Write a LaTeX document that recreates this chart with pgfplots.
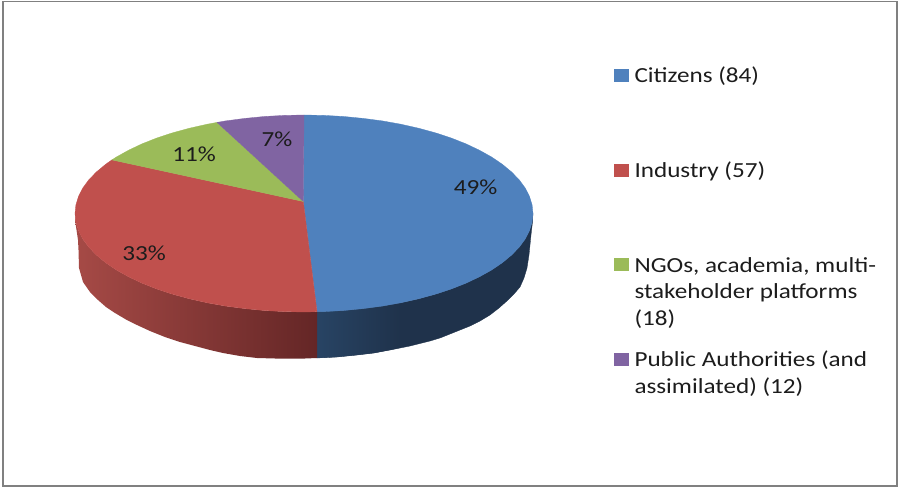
\documentclass[border=0pt]{standalone}
\usepackage{pgfplots}
\pgfplotsset{compat=1.18}
\usepackage{fontspec}
\setmainfont[FakeStretch=1.17]{Carlito}
\definecolor{cblue}{RGB}{79,129,189}
\definecolor{cred}{RGB}{192,80,77}
\definecolor{cgreen}{RGB}{155,187,89}
\definecolor{cpurple}{RGB}{128,100,162}
\definecolor{sblueA}{RGB}{40,68,100}
\definecolor{sblueB}{RGB}{31,50,75}
\definecolor{sredA}{RGB}{166,74,70}
\definecolor{sredB}{RGB}{100,38,38}
\definecolor{txt}{RGB}{28,28,28}
\newcommand\lf{\fontsize{21.5}{26}\selectfont}
\tikzset{lab/.style={font=\lf, text=txt, inner sep=0pt, outer sep=0pt}}
\begin{document}
\begin{tikzpicture}
\begin{axis}[
  hide axis, scale only axis, width=898pt, height=487pt,
  xmin=0, xmax=898, ymin=0, ymax=487, y dir=reverse, clip=false,
  no markers,
]
% page extent
\addplot[draw=none] coordinates {(0,0)(898,487)};
% frame
\addplot[draw=black!50, line width=1.6pt] coordinates {(3,1.5)(897,1.5)(897,486)(3,486)} --cycle;
% sides
\addplot[draw=sblueB, line width=0.3pt, fill=sblueB] coordinates {
(317,311.7)(324,311.6)(343.8,310.5)(363.3,308.6)(382.3,306.1)(400.8,302.8)(418.5,298.8)(435.4,294.2)(451.2,289)(465.9,283.2)(479.4,276.8)(491.6,270)(502.3,262.75)(511.5,255.1)(519.2,247.2)(525.2,239)(529.5,230.6)(532.1,222.1)(533,213.5)
(532.5,222)(531,235)(530,245)(529,255)(527,268)(524,278)(520,287)(514,294)(508,300)(499,308)(490,315)(480,321)(470,326)(455,332)(440,338)(430,341)(410,346)(390,350)(374,353)(357,355)(337,357)(317,358)} --cycle;
\addplot[draw=none, left color=sblueA, right color=sblueB] coordinates {
(317,311.7)(324,311.6)(343.8,310.5)(363.3,308.6)(382.3,306.1)(400.8,302.8)(400.8,347.5)(390,350)(374,353)(357,355)(337,357)(317,358)} --cycle;
\addplot[draw=none, left color=sredA, right color=sredB] coordinates {
(317.2,311.7)(304,312)(284,311.6)(264.2,310.5)(244.7,308.6)(225.7,306.1)(207.2,302.8)(189.5,298.8)(172.6,294.2)(156.8,289)(142.1,283.2)(128.6,276.8)(116.4,270)(105.7,262.75)(96.5,255.1)(88.8,247.2)(82.8,239)(78.5,230.6)(75.9,222.1)(75,213.5)
(75,220)(76.5,230)(78,240)(78.5,250)(79,268)(83,282)(90,292)(98,300)(106,307)(115,313)(126,319.5)(137,325)(150,331)(165,337)(180,342)(195,346)(210,350)(223,353)(240,356)(257,358)(275,358.5)(290,358.5)(305,358.5)(317.2,358)} --cycle;
% top: Citizens 49%
\addplot[draw=cblue, line width=0.3pt, fill=cblue] coordinates {
(303.3,201.5)(304,115)(324,115.4)(343.8,116.5)(363.3,118.4)(382.3,120.9)(400.8,124.2)(418.5,128.2)(435.4,132.8)(451.2,138)(465.9,143.8)(479.4,150.2)(491.6,157)(502.3,164.25)(511.5,171.9)(519.2,179.8)(525.2,188)(529.5,196.4)(532.1,204.9)(533,213.5)(532.1,222.1)(529.5,230.6)(525.2,239)(519.2,247.2)(511.5,255.1)(502.3,262.75)(491.6,270)(479.4,276.8)(465.9,283.2)(451.2,289)(435.4,294.2)(418.5,298.8)(400.8,302.8)(382.3,306.1)(363.3,308.6)(343.8,310.5)(324,311.6)(317,311.7)} --cycle;
% top: Industry 33%
\addplot[draw=cred, line width=0.3pt, fill=cred] coordinates {
(303.3,201.5)(317,311.7)(304,312)(284,311.6)(264.2,310.5)(244.7,308.6)(225.7,306.1)(207.2,302.8)(189.5,298.8)(172.6,294.2)(156.8,289)(142.1,283.2)(128.6,276.8)(116.4,270)(105.7,262.75)(96.5,255.1)(88.8,247.2)(82.8,239)(78.5,230.6)(75.9,222.1)(75,213.5)(75.9,204.9)(78.5,196.4)(82.8,188)(88.8,179.8)(96.5,171.9)(105.7,164.25)(111.9,159.9)} --cycle;
% top: NGOs 11%
\addplot[draw=cgreen, line width=0.3pt, fill=cgreen] coordinates {
(303.3,201.5)(111.9,159.9)(116.4,157)(128.6,150.2)(142.1,143.8)(156.8,138)(172.6,132.8)(189.5,128.2)(207.2,124.2)(217,122.4)} --cycle;
% top: Public Authorities 7%
\addplot[draw=cpurple, line width=0.3pt, fill=cpurple] coordinates {
(303.3,201.5)(217,122.4)(225.7,120.9)(244.7,118.4)(264.2,116.5)(284,115.4)(304,115)} --cycle;
% legend swatches
\addplot[draw=none, fill=cblue] coordinates {(614,69)(629,69)(629,82)(614,82)} --cycle;
\addplot[draw=none, fill=cred] coordinates {(614,164)(629,164)(629,177)(614,177)} --cycle;
\addplot[draw=none, fill=cgreen] coordinates {(614,258)(629,258)(629,271)(614,271)} --cycle;
\addplot[draw=none, fill=cpurple] coordinates {(614,353)(629,353)(629,366)(614,366)} --cycle;
% percent labels
\node[lab] at (axis cs:475.7,187) {49\%};
\node[lab] at (axis cs:277,139) {7\%};
\node[lab] at (axis cs:194,154) {11\%};
\node[lab] at (axis cs:144,253) {33\%};
% legend text
\node[lab,anchor=base west] at (axis cs:634.5,83) {Citizens (84)};
\node[lab,anchor=base west] at (axis cs:634.5,177) {Industry (57)};
\node[lab,anchor=base west] at (axis cs:634.5,272) {NGOs, academia, multi-};
\node[lab,anchor=base west] at (axis cs:634.5,298) {stakeholder platforms};
\node[lab,anchor=base west] at (axis cs:634.5,325) {(18)};
\node[lab,anchor=base west] at (axis cs:634.5,366) {Public Authorities (and};
\node[lab,anchor=base west] at (axis cs:634.5,393) {assimilated) (12)};
\end{axis}
\end{tikzpicture}
\end{document}
